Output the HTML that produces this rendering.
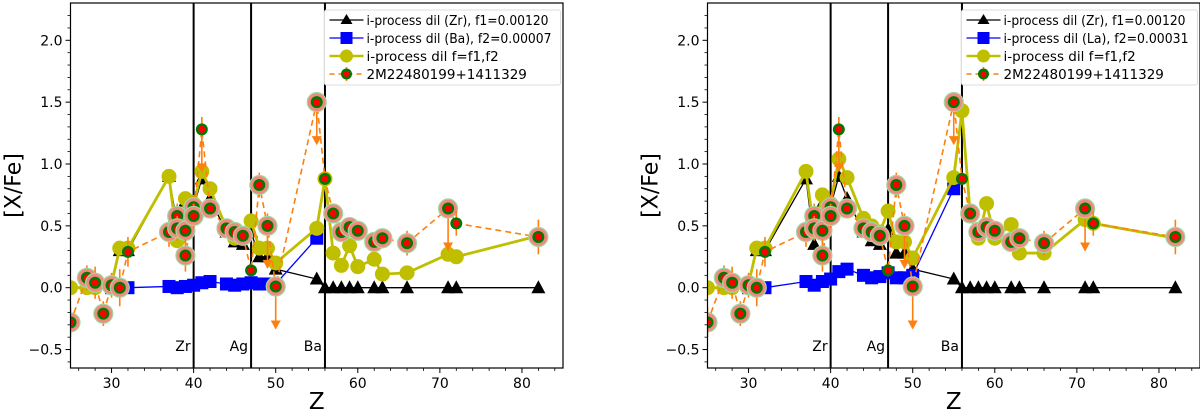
<!DOCTYPE html>
<html><head><meta charset="utf-8"><style>
html,body{margin:0;padding:0;background:#fff;width:1200px;height:415px;overflow:hidden}
svg text{font-family:"DejaVu Sans","Liberation Sans",sans-serif}
</style></head><body>
<svg id="chart" width="1200" height="415" viewBox="0 0 1200 415" xmlns="http://www.w3.org/2000/svg"></svg>
<script>
// ---- shared data (observed star) ----
const obsZ   = [25,27,28,29,30,31,32,37,38,38,39,39,40,40,41,42,44,45,46,47,48,49,50,55,56,57,58,59,60,62,63,66,71,72,82];
const obsVal = [-0.28,0.08,0.04,-0.21,0.02,0.00,0.29,0.45,0.58,0.48,0.46,0.26,0.65,0.58,1.28,0.64,0.48,0.45,0.42,0.14,0.83,0.50,0.01,1.50,0.88,0.60,0.45,0.49,0.46,0.37,0.40,0.36,0.64,0.52,0.41];
const obsErr = [0.12,0.1,0.13,0.1,0.1,0.15,0.12,0.12,0.1,0.1,0.1,0.13,0.1,0.1,0.1,0.05,0.05,0.05,0.05,0.05,0.1,0.1,0.05,0.05,0.05,0.05,0.05,0.05,0.05,0.05,0.05,0.1,0.05,0.1,0.14];
const obsUL  = [0,0,0,0,0,0,0,0,0,0,0,0,0,0,1,0,0,0,0,0,0,1,1,1,0,0,0,0,0,0,0,0,1,0,0];
const obsHalo= [1,1,1,1,1,1,0,1,1,1,1,1,1,1,0,1,1,1,1,0,1,1,1,1,0,1,1,1,1,1,1,1,1,0,1];
// ---- left panel model ----
const zrZ = [30,31,32,37,38,39,40,41,42,44,45,46,47,48,49,50,55,56,57,58,59,60,62,63,66,71,72,82];
const leftZr  = [0.02,0.3,0.3,0.9,0.5,0.7,0.66,0.88,0.72,0.45,0.37,0.35,0.45,0.25,0.25,0.15,0.07,0,0,0,0,0,0,0,0,0,0,0];
const baZ = [30,31,32,37,38,39,40,41,42,44,45,46,47,48,49,50,55];
const leftBa  = [0.0,0.0,0.0,0.01,0.0,0.01,0.02,0.04,0.05,0.03,0.02,0.03,0.04,0.03,0.03,0.03,0.40];
const mixZ = [25,27,28,30,31,32,37,38,39,40,41,42,44,45,46,47,48,49,50,55,56,57,58,59,60,62,63,66,71,72,82];
const leftMix = [0.0,0.0,0.0,0.03,0.32,0.32,0.90,0.38,0.72,0.68,0.94,0.80,0.48,0.40,0.40,0.54,0.32,0.32,0.20,0.48,0.88,0.28,0.18,0.34,0.17,0.23,0.11,0.12,0.27,0.25,0.42];
// ---- right panel model ----
const rightZr  = [0.02,0.3,0.3,0.88,0.35,0.68,0.66,0.90,0.72,0.45,0.38,0.35,0.47,0.28,0.28,0.15,0.07,0,0,0,0,0,0,0,0,0,0,0];
const rightLa  = [0.0,0.0,0.0,0.05,0.02,0.05,0.07,0.13,0.15,0.10,0.08,0.09,0.12,0.08,0.08,0.10,0.80];
const rightMix = [0.0,0.0,0.0,0.03,0.32,0.32,0.94,0.45,0.75,0.68,1.04,0.89,0.56,0.50,0.45,0.62,0.37,0.37,0.24,0.89,1.43,0.60,0.40,0.68,0.40,0.51,0.28,0.28,0.55,0.52,0.40];
const xTicks = [30,40,50,60,70,80];
const yTicks = [-0.5,0.0,0.5,1.0,1.5,2.0];
const yTickLabels = ["\u22120.5","0.0","0.5","1.0","1.5","2.0"];
const vLines = [40,47,56];
const vLabels = ["Zr","Ag","Ba"];

const NS="http://www.w3.org/2000/svg";
const svg=document.getElementById('chart');
function mk(tag,attrs,parent){const e=document.createElementNS(NS,tag);for(const k in attrs)e.setAttribute(k,attrs[k]);(parent||svg).appendChild(e);return e;}

function panel(ox, name, zrV, baV, mixV, blueLabel){
  const L=ox, R=ox+492.5, T=3, B=368;
  const x=z=>L+(z-25)*(R-L)/60;
  const y=v=>287.7-v*123.7;
  const g=mk('g',{});
  
  
  const clipId='clip'+name;
  const cp=mk('clipPath',{id:clipId},g); mk('rect',{x:L,y:T,width:R-L,height:B-T},cp);
  const plot=mk('g',{'clip-path':'url(#'+clipId+')'},g);
  
  
  vLines.forEach((z,i)=>{
    const l=mk('line',{x1:x(z),x2:x(z),y1:T,y2:B,stroke:'#000','stroke-width':2},plot);
    
    
    const t=mk('text',{x:x(z)-3,y:351,'font-size':14,'text-anchor':'end'},plot);
    t.textContent=vLabels[i];
    
    
  });
  mk('polyline',{points:zrZ.map((z,i)=>x(z)+','+y(zrV[i])).join(' '),fill:'none',stroke:'#000','stroke-width':1.3},plot);
  zrZ.forEach((z,i)=>{const p=mk('polygon',{points:`${x(z)},${y(zrV[i])-7.5} ${x(z)-7},${y(zrV[i])+5.5} ${x(z)+7},${y(zrV[i])+5.5}`,fill:'#000'},plot);
    
    });
  mk('polyline',{points:baZ.map((z,i)=>x(z)+','+y(baV[i])).join(' '),fill:'none',stroke:'#0000ff','stroke-width':1.3},plot);
  baZ.forEach((z,i)=>{const p=mk('rect',{x:x(z)-6.5,y:y(baV[i])-6.5,width:13,height:13,fill:'#0000ff'},plot);
    
    });
  mk('polyline',{points:mixZ.map((z,i)=>x(z)+','+y(mixV[i])).join(' '),fill:'none',stroke:'#bfbf00','stroke-width':2.8},plot);
  mixZ.forEach((z,i)=>{const p=mk('circle',{cx:x(z),cy:y(mixV[i]),r:7.5,fill:'#bfbf00'},plot);
    
    });
  mk('polyline',{points:obsZ.map((z,i)=>x(z)+','+y(obsVal[i])).join(' '),fill:'none',stroke:'#ff7f0e','stroke-width':1.6,'stroke-dasharray':'6,4'},plot);
  obsZ.forEach((z,i)=>{
    const cx=x(z),cy=y(obsVal[i]);
    const eb=mk('line',{x1:cx,x2:cx,y1:y(obsVal[i]+obsErr[i]),y2:y(obsVal[i]-obsErr[i]),stroke:'#ff7f0e','stroke-width':1.6},plot);
    
    
    if(obsUL[i]){
      const ye=cy+42;
      mk('line',{x1:cx,x2:cx,y1:cy,y2:ye,stroke:'#ff7f0e','stroke-width':1.6},plot);
      const a=mk('polygon',{points:`${cx-5},${ye-8} ${cx+5},${ye-8} ${cx},${ye+1}`,fill:'#ff7f0e'},plot);
      
      
    }
    if(obsHalo[i]) mk('circle',{cx,cy,r:9.5,fill:'#f08a80',stroke:'#9fd89f','stroke-width':1.2},plot);
    const gc=mk('circle',{cx,cy,r:6,fill:'#007a00'},plot);
    
    
    mk('circle',{cx,cy,r:3.5,fill:'#ff0000'},plot);
  });
  const fr=mk('rect',{x:L,y:T,width:R-L,height:B-T,fill:'none',stroke:'#000','stroke-width':1.2},g);
  
  
  xTicks.forEach(t=>{mk('line',{x1:x(t),x2:x(t),y1:B,y2:B+5,stroke:'#000'},g);
    const tx=mk('text',{x:x(t),y:B+20,'font-size':14,'text-anchor':'middle'},g);tx.textContent=t;
    
    });
  for(let t=26;t<=84;t+=2){ if(t%10) mk('line',{x1:x(t),x2:x(t),y1:B,y2:B+3,stroke:'#000','stroke-width':0.8},g); }
  yTicks.forEach((t,i)=>{mk('line',{x1:L-5,x2:L,y1:y(t),y2:y(t),stroke:'#000'},g);
    const tx=mk('text',{x:L-8,y:y(t)+5,'font-size':14,'text-anchor':'end'},g);tx.textContent=yTickLabels[i];
    
    });
  for(let k=-6;k<=22;k++){ if(k%5) mk('line',{x1:L-3,x2:L,y1:y(k/10),y2:y(k/10),stroke:'#000','stroke-width':0.8},g); }
  const xl=mk('text',{x:(L+R)/2,y:409,'font-size':23,'text-anchor':'middle'},g);xl.textContent='Z';
  
  
  const yl=mk('text',{x:0,y:0,'font-size':22,'text-anchor':'middle',transform:`translate(${L-50},${(T+B)/2}) rotate(-90)`},g);yl.textContent='[X/Fe]';
  
  
  const lx=L+254, lg=mk('g',{},g);
  
  
  mk('rect',{x:lx,y:10,width:236,height:75,fill:'#fff',stroke:'#ddd',rx:2},lg);
  const labels=['i-process dil (Zr), f1=0.00120',blueLabel,'i-process dil f=f1,f2','2M22480199+1411329'];
  const lens=[182,185,0,0];
  labels.forEach((lab,i)=>{
    const yy=20+i*18, sx=lx+5, mx=lx+22;
    if(i==0){mk('line',{x1:sx,x2:sx+34,y1:yy,y2:yy,stroke:'#000','stroke-width':1.3},lg);mk('polygon',{points:`${mx},${yy-6} ${mx-6},${yy+4} ${mx+6},${yy+4}`,fill:'#000'},lg);}
    if(i==1){mk('line',{x1:sx,x2:sx+34,y1:yy,y2:yy,stroke:'#00f','stroke-width':1.3},lg);mk('rect',{x:mx-6,y:yy-6,width:12,height:12,fill:'#00f'},lg);}
    if(i==2){mk('line',{x1:sx,x2:sx+34,y1:yy,y2:yy,stroke:'#bfbf00','stroke-width':2.5},lg);mk('circle',{cx:mx,cy:yy,r:6.5,fill:'#bfbf00'},lg);}
    if(i==3){mk('line',{x1:sx,x2:sx+34,y1:yy,y2:yy,stroke:'#ff7f0e','stroke-width':1.6,'stroke-dasharray':'5,4'},lg);mk('line',{x1:mx,x2:mx,y1:yy-7,y2:yy+7,stroke:'#ff7f0e','stroke-width':1.6},lg);mk('circle',{cx:mx,cy:yy,r:5.5,fill:'#007a00'},lg);mk('circle',{cx:mx,cy:yy,r:3,fill:'#f00'},lg);}
    const at={x:lx+42,y:yy+5,'font-size':13.5};
    if(lens[i]){at.textLength=lens[i];at.lengthAdjust='spacingAndGlyphs';}
    const t=mk('text',at,lg);t.textContent=lab;
    
    
  });
}
panel(70.5,'left-panel',leftZr,leftBa,leftMix,'i-process dil (Ba), f2=0.00007');
panel(707.5,'right-panel',rightZr,rightLa,rightMix,'i-process dil (La), f2=0.00031');
</script>
</body></html>
